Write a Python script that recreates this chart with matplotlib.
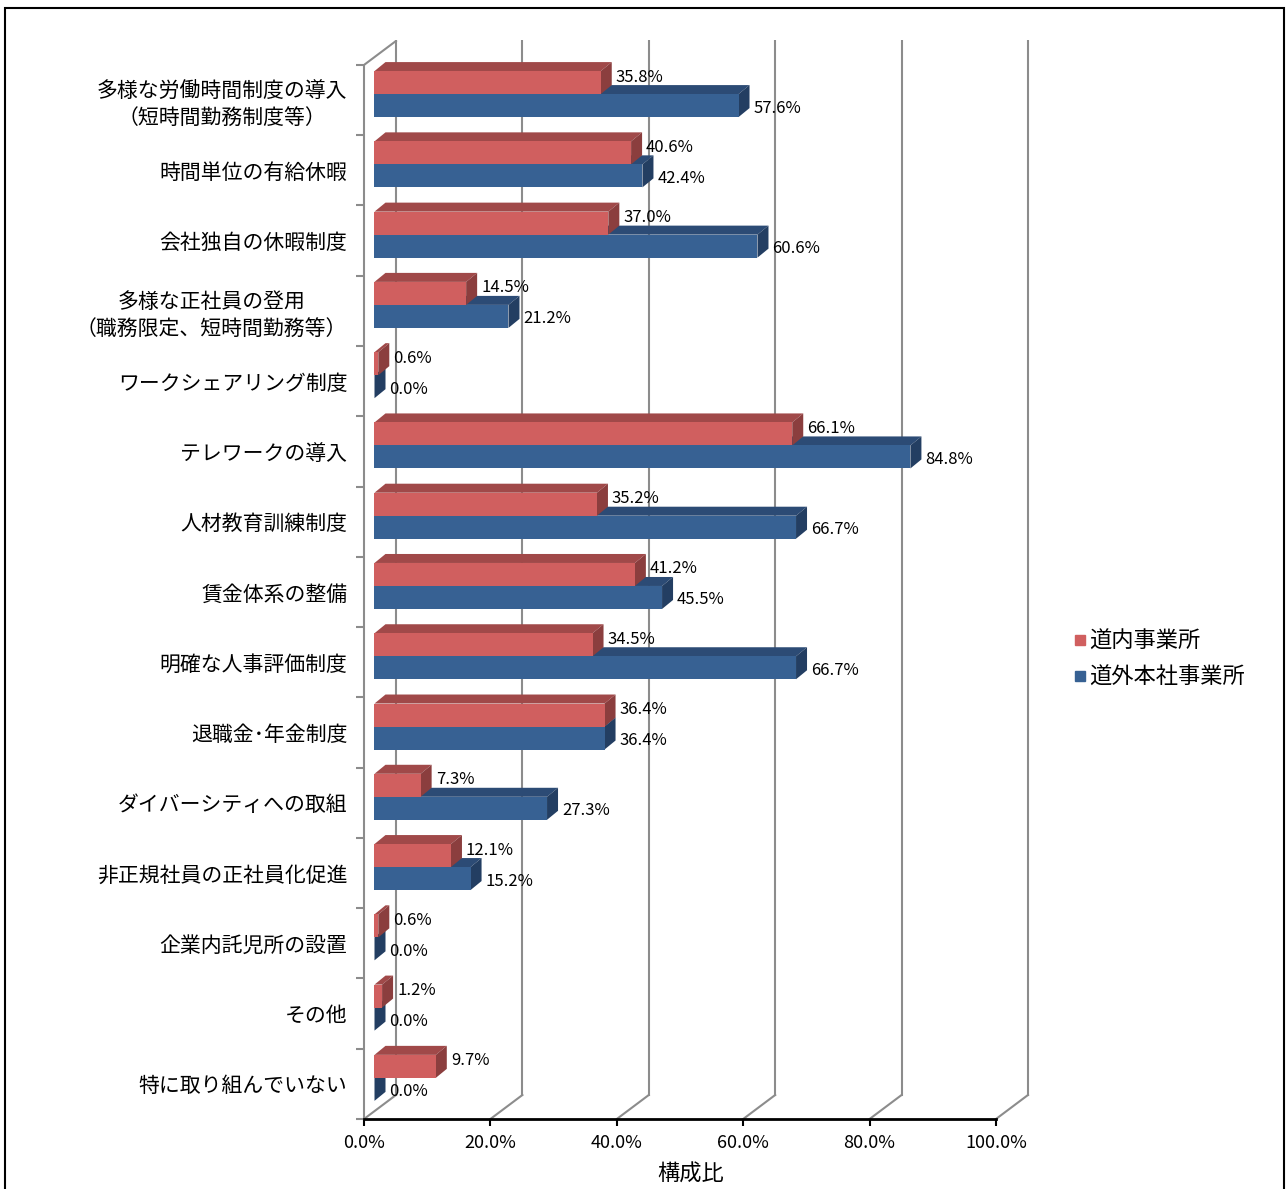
import matplotlib
matplotlib.use("Agg")
import matplotlib.pyplot as plt
from matplotlib.patches import Polygon, Rectangle
from matplotlib.lines import Line2D
import numpy as np

plt.rcParams['font.family'] = ['Noto Sans CJK JP', 'DejaVu Sans']

# データ
categories = [
    "多様な労働時間制度の導入\n（短時間勤務制度等）",
    "時間単位の有給休暇",
    "会社独自の休暇制度",
    "多様な正社員の登用\n（職務限定、短時間勤務等）",
    "ワークシェアリング制度",
    "テレワークの導入",
    "人材教育訓練制度",
    "賃金体系の整備",
    "明確な人事評価制度",
    "退職金･年金制度",
    "ダイバーシティへの取組",
    "非正規社員の正社員化促進",
    "企業内託児所の設置",
    "その他",
    "特に取り組んでいない",
]
series_names = ["道内事業所", "道外本社事業所"]
doh_nai = [35.8, 40.6, 37.0, 14.5, 0.6, 66.1, 35.2, 41.2, 34.5, 36.4, 7.3, 12.1, 0.6, 1.2, 9.7]
doh_gai = [57.6, 42.4, 60.6, 21.2, 0.0, 84.8, 66.7, 45.5, 66.7, 36.4, 27.3, 15.2, 0.0, 0.0, 0.0]
x_ticks = [0, 20, 40, 60, 80, 100]

# 色
RED = ('#D05F5F', '#A04949', '#8B3E3E')   # 正面, 上面, 側面
BLUE = ('#376193', '#2C4B75', '#233E62')
GRID = '#8C8C8C'

# 擬似3Dの寸法 (px -> データ単位)
PX_X = 6.32       # px / %
PX_Y = 70.27      # px / 項目
W_DX, W_DY = 32 / PX_X, 24 / PX_Y       # 奥の壁のずれ
B_DX, B_DY = 10.5 / PX_X, 6 / PX_Y      # 棒の位置ずれ
D_DX, D_DY = 11 / PX_X, 9 / PX_Y        # 棒の奥行き
BAR_H = 23 / PX_Y
LBL_DX = 15 / PX_X

n = len(categories)
y_bot = n - 0.5
y_top = -0.5

fig = plt.figure(figsize=(12.88, 11.89), dpi=100)
ax = fig.add_axes([364 / 1288, 70 / 1189, 669.9 / 1288, 1079 / 1189])
ax.set_xlim(0, 106)
ax.set_ylim(y_bot, y_bot - 1079 / PX_Y)

# 壁と目盛線
for x in x_ticks:
    ax.plot([x + W_DX, x + W_DX], [y_bot - W_DY, y_top - W_DY], color=GRID, lw=1.5, zorder=1)
    ax.plot([x, x + W_DX], [y_bot, y_bot - W_DY], color=GRID, lw=1.5, zorder=1)
ax.plot([0, W_DX], [y_top, y_top - W_DY], color=GRID, lw=1.5, zorder=1)


def draw_bar(v, y0, y1, cols):
    x0 = B_DX
    x1 = B_DX + v
    front, top, side = cols
    ax.add_patch(Polygon([(x0, y0), (x0 + D_DX, y0 - D_DY), (x1 + D_DX, y0 - D_DY), (x1, y0)],
                         closed=True, fc=top, ec='none', zorder=3))
    ax.add_patch(Polygon([(x1, y0), (x1 + D_DX, y0 - D_DY), (x1 + D_DX, y1 - D_DY), (x1, y1)],
                         closed=True, fc=side, ec='none', zorder=3))
    if v > 0:
        ax.add_patch(Rectangle((x0, y0), v, y1 - y0, fc=front, ec='none', zorder=4))


for i in range(n):
    yc = i - B_DY
    # 道外 (下)
    draw_bar(doh_gai[i], yc, yc + BAR_H, BLUE)
    # 道内 (上)
    draw_bar(doh_nai[i], yc - BAR_H, yc, RED)
    ax.text(B_DX + doh_nai[i] + LBL_DX, yc - 17 / PX_Y, f"{doh_nai[i]:.1f}%",
            ha='left', va='center', fontsize=12, zorder=6)
    ax.text(B_DX + doh_gai[i] + LBL_DX, yc + 14 / PX_Y, f"{doh_gai[i]:.1f}%",
            ha='left', va='center', fontsize=12, zorder=6)

# 軸
for s in ['top', 'right']:
    ax.spines[s].set_visible(False)
ax.spines['left'].set_bounds(y_bot, y_top)
ax.spines['left'].set_color(GRID)
ax.spines['left'].set_linewidth(1.5)
ax.spines['bottom'].set_bounds(0, 100)
ax.spines['bottom'].set_color('black')
ax.spines['bottom'].set_linewidth(2)

ax.set_xticks(x_ticks)
ax.set_xticklabels([f"{t:.1f}%" for t in x_ticks], fontsize=13)
ax.tick_params(axis='x', direction='out', length=5, width=1.5, color='black', pad=6)
ax.set_xlabel("構成比", fontsize=16, labelpad=0)
ax.xaxis.set_label_coords((691 - 364) / 669.9, -44 / 1079)

ax.set_yticks(np.arange(n))
ax.set_yticklabels(categories, fontsize=15)
for lbl in ax.get_yticklabels():
    lbl.set_multialignment('center')
    lbl.set_linespacing(1.25)
ax.tick_params(axis='y', length=0, pad=12)
ax.set_yticks(np.arange(n + 1) - 0.5, minor=True)
ax.tick_params(axis='y', which='minor', direction='out', length=6, width=1.5, color=GRID)

# 凡例
handles = [Line2D([], [], marker='s', ls='none', color=RED[0], markersize=7.5),
           Line2D([], [], marker='s', ls='none', color=BLUE[0], markersize=7.5)]
fig.legend(handles, series_names, loc='center left', bbox_to_anchor=(1062 / 1288, 1 - 659 / 1189),
           frameon=False, fontsize=16, handlelength=0.6, handletextpad=0.1, labelspacing=0.6,
           borderpad=0)

# 外枠
fig.add_artist(Rectangle((5 / 1288, -0.01), 1279 / 1288, 1.01 - 8 / 1189,
                         transform=fig.transFigure, fill=False, ec='black', lw=1.5))

fig.savefig("out.png", dpi=100)
